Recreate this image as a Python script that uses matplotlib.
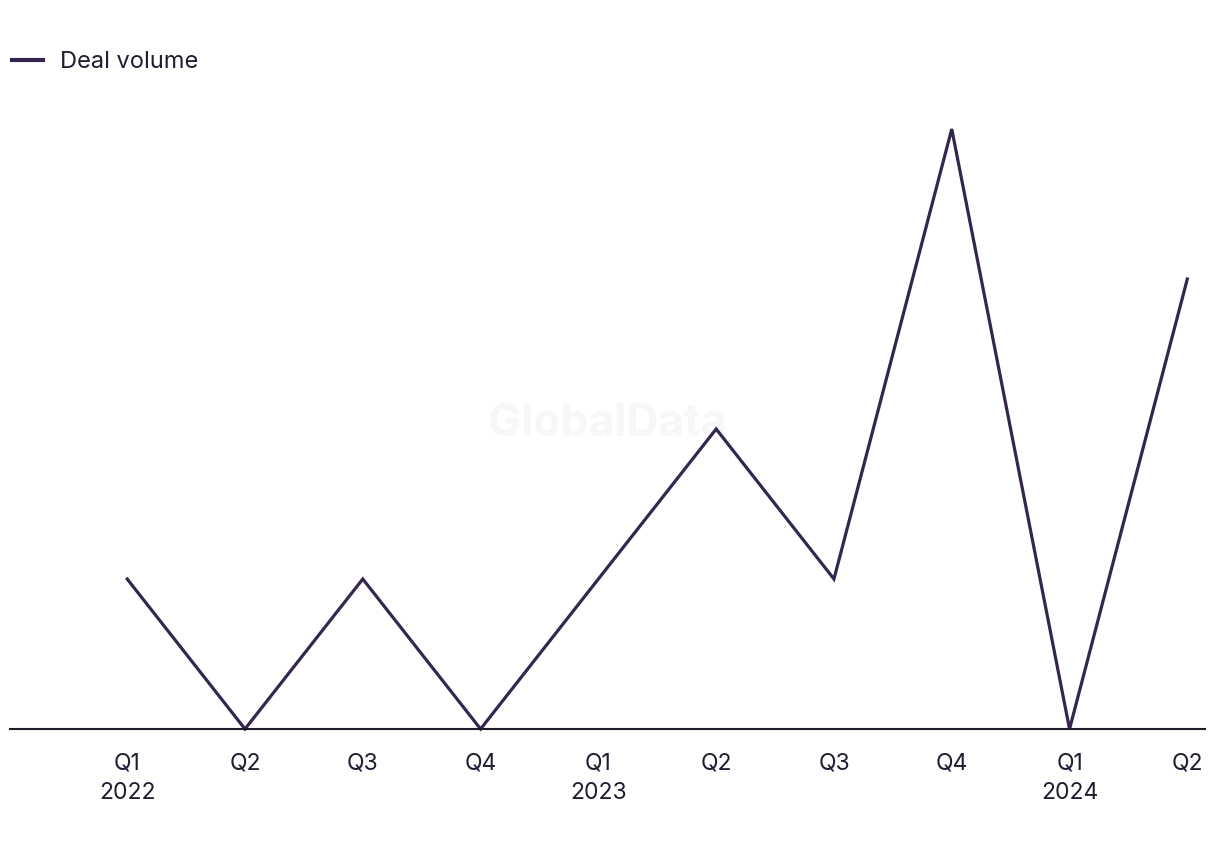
import matplotlib.pyplot as plt

quarters = ['Q1', 'Q2', 'Q3', 'Q4', 'Q1', 'Q2', 'Q3', 'Q4', 'Q1', 'Q2']
years = ['2022', '', '', '', '2023', '', '', '', '2024', '']
deal_volume = [1, 0, 1, 0, 1, 2, 1, 4, 0, 3]

line_col = '#35264f'
text_col = '#1f1d33'

plt.rcParams['font.family'] = ['Inter', 'DejaVu Sans']

fig = plt.figure(figsize=(12.2, 8.5), dpi=100)
ax = fig.add_axes([10 / 1220, 121 / 850, 1195 / 1220, 629 / 850])

x = list(range(len(deal_volume)))
ax.plot(x, deal_volume, color=line_col, lw=2.3, label='Deal volume',
        solid_joinstyle='miter', clip_on=False)

ax.set_xlim(-0.995, 9.15)
ax.set_ylim(0, 629 / 150)

labels = [q if y == '' else q + '\n' + y for q, y in zip(quarters, years)]
ax.set_xticks(x)
ax.set_xticklabels(labels, fontsize=16.5, color=text_col, linespacing=1.45, va='top')
ax.tick_params(axis='x', length=0, pad=17)
ax.set_yticks([])

for s in ['top', 'right', 'left']:
    ax.spines[s].set_visible(False)
ax.spines['bottom'].set_color('#1e1a2e')
ax.spines['bottom'].set_linewidth(1.5)

# faint watermark
ax.text(0.5, 0.485, 'GlobalData', transform=ax.transAxes, fontsize=32,
        fontweight='bold', color='#f7f7f7', ha='center', va='center', zorder=0)

leg = fig.legend(loc='center left', bbox_to_anchor=(12 / 1220, 1 - 62 / 850), frameon=False,
                 fontsize=17, labelcolor=text_col, handlelength=1.3, handletextpad=0.72,
                 borderaxespad=0, borderpad=0)
leg.get_lines()[0].set_linewidth(3)

fig.savefig('out.png', dpi=100)
